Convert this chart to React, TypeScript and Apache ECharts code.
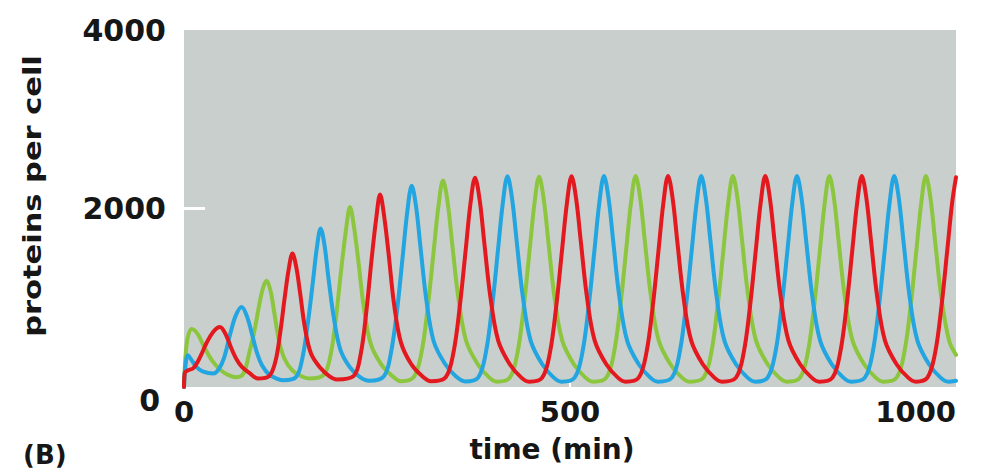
import React, { useEffect, useRef } from "react";
import * as echarts from "echarts";

// ---- data (time in min, proteins per cell) ----
const X_TICKS = [0, 500, 1000];
const Y_TICKS = [0, 2000, 4000];
const X_TITLE = "time (min)";
const Y_TITLE = "proteins per cell";
const PANEL_LABEL = "(B)";

const GREEN: number[][] = [
  [0, 0], [2, 350], [5, 560], [10, 650], [18, 590], [26, 450], [36, 300], [46, 200], [56, 140], [67, 110],
  [77, 150], [85, 400], [91, 620], [97, 900], [102, 1100], [107, 1190], [112, 1080], [117, 830], [123, 520], [130, 320], [140, 190], [152, 120], [162, 95],
  [181, 135], [190, 365], [197, 790], [204, 1345], [210, 1770], [215, 2018], [220, 1805], [226, 1400], [233, 885], [242, 480], [255, 260], [269, 130], [281, 65],
  [297.5, 110], [307.5, 380], [315.5, 875], [323.5, 1530], [329.5, 2020], [335.5, 2315], [341.5, 2068], [347.5, 1595], [355.5, 990], [365.5, 515], [380.5, 255], [395.5, 105], [405.5, 60],
  [422, 105], [432, 385], [440, 890], [448, 1560], [454, 2060], [460, 2355], [466, 2100], [472, 1625], [480, 1000], [490, 520], [505, 255], [520, 105], [530, 60],
  [547, 105], [557, 385], [565, 890], [573, 1560], [579, 2065], [585, 2365], [591, 2110], [597, 1630], [605, 1005], [615, 520], [630, 255], [645, 105], [655, 60],
  [673, 105], [683, 385], [691, 890], [699, 1560], [705, 2065], [711, 2365], [717, 2110], [723, 1630], [731, 1005], [741, 520], [756, 255], [771, 105], [781, 60],
  [798, 105], [808, 385], [816, 890], [824, 1560], [830, 2065], [836, 2365], [842, 2110], [848, 1630], [856, 1005], [866, 520], [881, 255], [896, 105], [906, 60],
  [923, 105], [933, 385], [941, 890], [949, 1560], [955, 2065], [961, 2365], [967, 2110], [973, 1630], [981, 1005], [991, 520], [1000, 360],
];

const RED: number[][] = [
  [0, 0], [1, 160], [6, 190], [12, 210], [20, 320], [29, 490], [38, 620], [46.6, 673], [54, 590], [61, 440], [68, 310], [75, 225], [85, 155], [96, 95],
  [110.5, 125], [118.5, 290], [124.5, 600], [130.5, 1005], [135.5, 1313], [140.5, 1495], [145.5, 1340], [150.5, 1047], [156.5, 670], [164.5, 375], [176.5, 215], [188.5, 120], [198, 85],
  [220, 125], [229, 375], [236, 830], [243, 1430], [249, 1890], [254, 2157], [259, 1930], [265, 1495], [272, 935], [281, 500], [294, 260], [308, 125], [320, 65],
  [339, 110], [349, 385], [357, 885], [365, 1545], [371, 2050], [377, 2345], [383, 2095], [389, 1615], [397, 1000], [407, 520], [422, 255], [437, 105], [447, 60],
  [464, 105], [474, 385], [482, 890], [490, 1560], [496, 2060], [502, 2360], [508, 2105], [514, 1630], [522, 1005], [532, 520], [547, 255], [562, 105], [572, 60],
  [589, 105], [599, 385], [607, 890], [615, 1560], [621, 2065], [627, 2365], [633, 2110], [639, 1630], [647, 1005], [657, 520], [672, 255], [687, 105], [697, 60],
  [715, 105], [725, 385], [733, 890], [741, 1560], [747, 2065], [753, 2365], [759, 2110], [765, 1630], [773, 1005], [783, 520], [798, 255], [813, 105], [823, 60],
  [840, 105], [850, 385], [858, 890], [866, 1560], [872, 2065], [878, 2365], [884, 2110], [890, 1630], [898, 1005], [908, 520], [923, 255], [938, 105], [948, 60],
  [963, 105], [973, 385], [981, 890], [989, 1560], [995, 2065], [1000, 2350],
];

const BLUE: number[][] = [
  [0, 0], [2, 250], [5, 355], [10, 300], [16, 225], [24, 175], [38, 150],
  [45, 200], [52, 330], [60, 600], [67, 800], [74.7, 897], [82, 780], [89, 560], [95, 370], [101, 243], [110, 140], [120, 95], [129, 75],
  [145, 110], [153, 310], [160, 690], [167, 1180], [172, 1555], [177, 1776], [182, 1590], [187, 1230], [194, 780], [202.5, 420], [215, 220], [228, 110], [240, 70],
  [259, 120], [268, 380], [276, 860], [283.6, 1490], [289.3, 1970], [295, 2254], [300.7, 2015], [306.4, 1560], [314, 970], [323.5, 510], [338, 260], [352, 120], [364, 62],
  [381, 105], [391, 385], [399, 890], [407, 1560], [413, 2063], [419, 2362], [425, 2108], [431, 1628], [439, 1005], [449, 520], [464, 255], [479, 105], [489, 60],
  [506, 105], [516, 385], [524, 890], [532, 1560], [538, 2065], [544, 2365], [550, 2110], [556, 1630], [564, 1005], [574, 520], [589, 255], [604, 105], [614, 60],
  [632, 105], [642, 385], [650, 890], [658, 1560], [664, 2065], [670, 2365], [676, 2110], [682, 1630], [690, 1005], [700, 520], [715, 255], [730, 105], [740, 60],
  [756, 105], [766, 385], [774, 890], [782, 1560], [788, 2065], [794, 2365], [800, 2110], [806, 1630], [814, 1005], [824, 520], [839, 255], [854, 105], [864, 60],
  [882, 105], [892, 385], [900, 890], [908, 1560], [914, 2065], [920, 2365], [926, 2110], [932, 1630], [940, 1005], [950, 520], [965, 255], [980, 105], [990, 60], [1000, 70],
];

const FONT = "'DejaVu Sans', 'Noto Sans', sans-serif";
const TEXT_COLOR = "#161616";

export default function App() {
  const ref = useRef<HTMLDivElement>(null);

  useEffect(() => {
    document.body.style.margin = "0";
    const chart = echarts.init(ref.current as HTMLDivElement, null, { renderer: "svg" });

    const lineSeries = (name: string, data: number[][], color: string) => ({
      name,
      type: "line",
      data,
      showSymbol: false,
      smooth: 0.35,
      clip: true,
      lineStyle: { color, width: 4, cap: "round", join: "round" },
    });

    chart.setOption({
      animation: false,
      backgroundColor: "#ffffff",
      grid: {
        left: 184,
        top: 30,
        right: 27,
        bottom: 89,
        show: true,
        backgroundColor: "#c9cfcc",
        borderWidth: 0,
      },
      xAxis: {
        type: "value",
        min: X_TICKS[0],
        max: X_TICKS[X_TICKS.length - 1],
        interval: X_TICKS[1] - X_TICKS[0],
        axisLine: { show: false },
        splitLine: { show: false },
        axisTick: {
          show: true,
          inside: true,
          length: 4,
          customValues: [X_TICKS[1]],
          lineStyle: { color: "#ffffff", width: 2 },
        },
        axisLabel: {
          margin: 10,
          fontFamily: FONT,
          fontWeight: "bold",
          fontSize: 29,
          color: TEXT_COLOR,
          alignMaxLabel: "right",
          formatter: (v: number) => String(v),
        },
      },
      yAxis: {
        type: "value",
        min: Y_TICKS[0],
        max: Y_TICKS[Y_TICKS.length - 1],
        interval: Y_TICKS[1] - Y_TICKS[0],
        axisLine: { show: false },
        splitLine: { show: false },
        axisTick: {
          show: true,
          inside: true,
          length: 21,
          customValues: [Y_TICKS[1]],
          lineStyle: { color: "#ffffff", width: 3 },
        },
        axisLabel: {
          margin: 18,
          fontFamily: FONT,
          fontWeight: "bold",
          fontSize: 30,
          color: TEXT_COLOR,
          formatter: (v: number) => (v === 0 ? "{z|0}" : String(v)),
          rich: {
            z: {
              fontFamily: FONT,
              fontWeight: "bold",
              fontSize: 30,
              color: TEXT_COLOR,
              padding: [26, 6, 0, 0],
            },
          },
        },
      },
      graphic: [
        {
          type: "text",
          x: 33,
          y: 196,
          rotation: Math.PI / 2,
          scaleX: 1.27,
          style: {
            text: Y_TITLE,
            x: 0,
            y: 0,
            align: "center",
            verticalAlign: "middle",
            font: `bold 24px ${FONT}`,
            fill: TEXT_COLOR,
          },
        },
        {
          type: "text",
          x: 552,
          y: 449,
          style: {
            text: X_TITLE,
            x: 0,
            y: 0,
            align: "center",
            verticalAlign: "middle",
            font: `bold 28px ${FONT}`,
            fill: TEXT_COLOR,
          },
        },
        {
          type: "text",
          x: 23,
          y: 455,
          style: {
            text: PANEL_LABEL,
            x: 0,
            y: 0,
            align: "left",
            verticalAlign: "middle",
            font: `bold 26px ${FONT}`,
            fill: TEXT_COLOR,
          },
        },
      ],
      series: [
        lineSeries("green", GREEN, "#8cc63f"),
        lineSeries("blue", BLUE, "#22a5e0"),
        lineSeries("red", RED, "#e3191f"),
      ],
    });

    return () => chart.dispose();
  }, []);

  return <div ref={ref} style={{ width: 983, height: 476 }} />;
}
